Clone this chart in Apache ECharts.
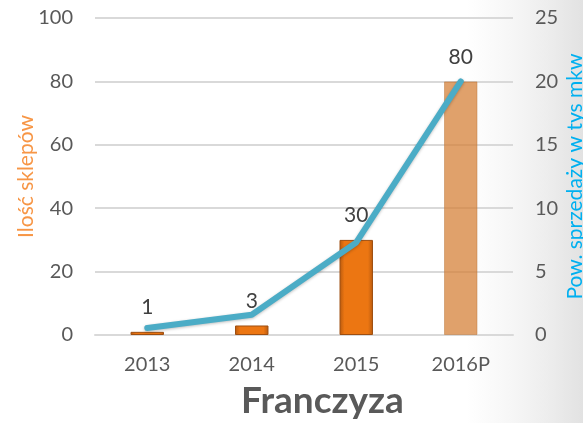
<!DOCTYPE html>
<html>
<head>
<meta charset="utf-8">
<script src="https://cdn.jsdelivr.net/npm/echarts@6/dist/echarts.min.js"></script>
<style>
  html, body { margin: 0; padding: 0; }
  body {
    width: 583px;
    height: 423px;
    background: linear-gradient(to right, #ffffff 0%, #ffffff 80%, #f6f6f6 88%, #ededed 94%, #e2e2e2 100%);
  }
  #chart { width: 583px; height: 423px; }
</style>
</head>
<body>
<div id="chart"></div>
<script>
// data
const categories = ['2013', '2014', '2015', '2016P']
const shopCount = [1, 3, 30, 80]
const salesArea = [0.55, 1.6, 7.3, 20]

const FONT = 'Lato, "Open Sans", sans-serif'
const TEXT = '#595959'

const solidBar = {
  type: 'linear', x: 0, y: 0, x2: 1, y2: 0,
  colorStops: [
    { offset: 0, color: '#B85A0E' },
    { offset: 0.15, color: '#EC7612' },
    { offset: 0.85, color: '#EC7612' },
    { offset: 1, color: '#B85A0E' },
  ],
}

const barData = shopCount.map((v, i) => {
  if (i === categories.length - 1) {
    return { value: v, itemStyle: { color: 'rgba(212,125,50,0.72)', borderColor: 'rgba(190,120,60,0.5)', borderWidth: 1 } }
  }
  return { value: v, itemStyle: { color: solidBar, borderColor: '#9E4E10', borderWidth: 1 } }
})

const chart = echarts.init(document.getElementById('chart'), null, { renderer: 'canvas' })

chart.setOption({
  backgroundColor: 'transparent',
  textStyle: { fontFamily: FONT },
  title: {
    text: 'Franczyza',
    left: 236,
    top: 378,
    textStyle: { fontFamily: FONT, fontSize: 37, fontWeight: 'bold', color: TEXT },
  },
  grid: { left: 95, right: 70, top: 18, bottom: 88, containLabel: false, outerBoundsMode: 'none' },
  xAxis: {
    type: 'category',
    data: categories,
    axisLine: { lineStyle: { color: '#d9d9d9', width: 2 } },
    axisTick: { show: false },
    axisLabel: { color: TEXT, fontSize: 20, margin: 20, fontFamily: FONT },
  },
  yAxis: [
    {
      type: 'value',
      min: 0, max: 100, interval: 20,
      name: 'Ilość sklepów',
      nameLocation: 'middle',
      nameGap: 58,
      nameMoveOverlap: false,
      nameTextStyle: { color: '#F79646', fontSize: 21, fontFamily: FONT },
      axisLine: { show: false },
      axisTick: { show: false },
      axisLabel: { color: TEXT, fontSize: 20, margin: 22, fontFamily: FONT },
      splitLine: { lineStyle: { color: '#d9d9d9', width: 2 } },
    },
    {
      type: 'value',
      min: 0, max: 25, interval: 5,
      name: 'Pow. sprzedaży w tys mkw',
      nameLocation: 'middle',
      nameGap: 52,
      nameMoveOverlap: false,
      nameRotate: 90,
      nameTextStyle: { color: '#00B0F0', fontSize: 21, fontFamily: FONT },
      axisLine: { show: false },
      axisTick: { show: false },
      axisLabel: { color: TEXT, fontSize: 20, margin: 22, fontFamily: FONT },
      splitLine: { show: false },
    },
  ],
  series: [
    {
      name: 'Ilość sklepów',
      type: 'bar',
      yAxisIndex: 0,
      barWidth: '32%',
      data: barData,
      label: {
        show: true,
        position: 'top',
        distance: 14,
        color: '#404040',
        fontSize: 21,
        fontFamily: FONT,
      },
    },
    {
      name: 'Pow. sprzedaży',
      type: 'line',
      yAxisIndex: 1,
      data: salesArea,
      symbol: 'none',
      lineStyle: {
        color: '#4BACC6',
        width: 6,
        cap: 'round',
        shadowColor: 'rgba(0,0,0,0.25)',
        shadowBlur: 3,
        shadowOffsetY: 1,
      },
      z: 5,
    },
  ],
})
</script>
</body>
</html>
